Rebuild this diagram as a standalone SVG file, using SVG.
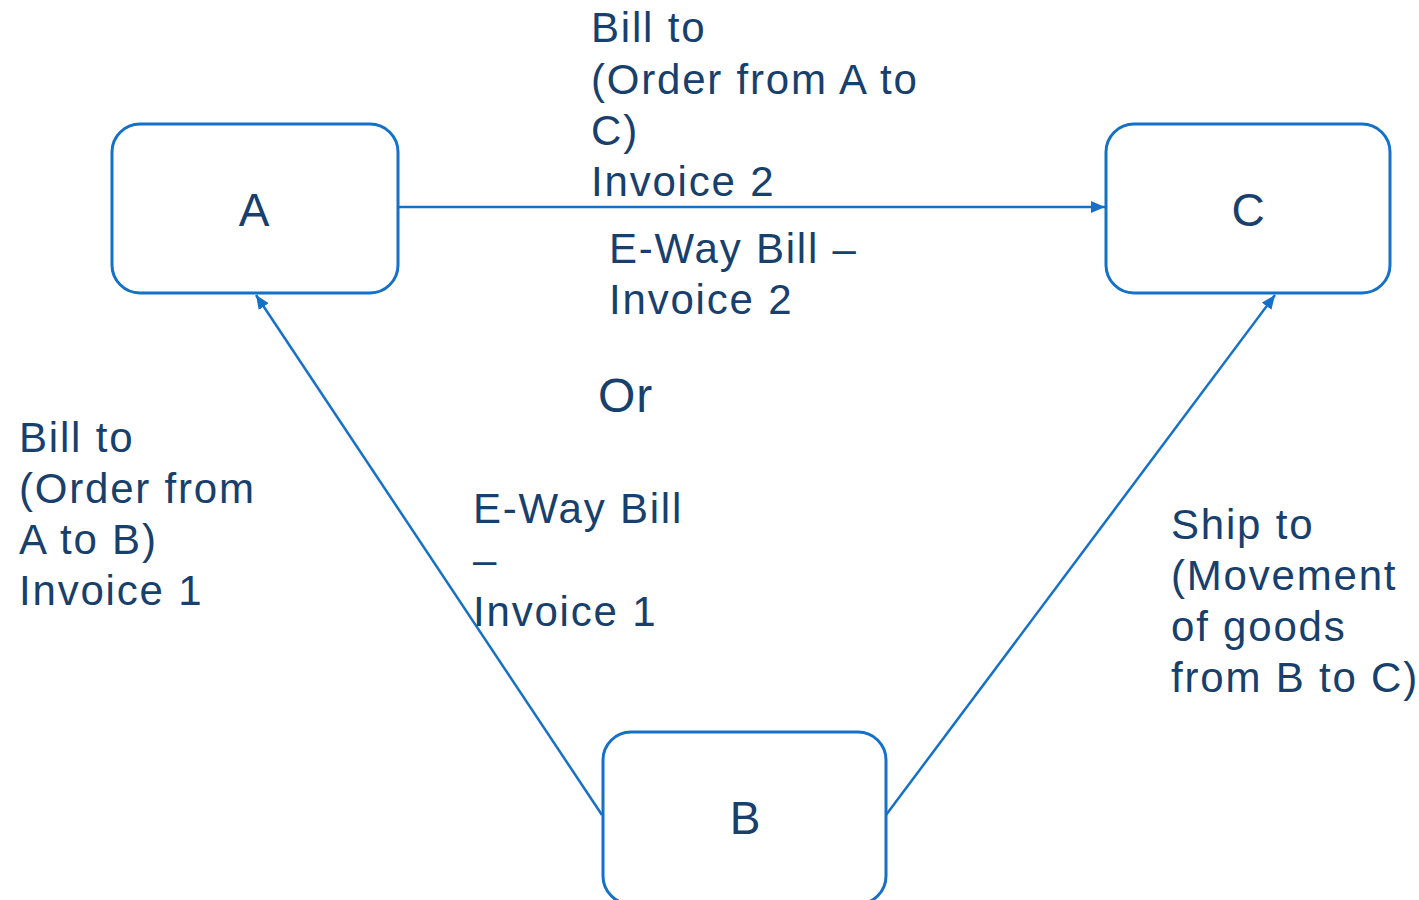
<svg xmlns="http://www.w3.org/2000/svg" width="1419" height="900" viewBox="0 0 1419 900">
  <style>
    .box { fill: #ffffff; stroke: #1570c8; stroke-width: 3; }
    .edge { fill: none; stroke: #1570c8; stroke-width: 2.5; }
    .lbl { font-family: "Liberation Sans", Arial, sans-serif; font-size: 42px; letter-spacing: 1.8px; fill: #17406d; }
    .big { font-size: 48px; letter-spacing: 1px; }
    .node-lbl { font-family: "Liberation Sans", Arial, sans-serif; font-size: 46px; fill: #17406d; text-anchor: middle; }
  </style>
  <defs>
    <marker id="arrow" viewBox="0 0 14 12" refX="14" refY="6" markerWidth="14" markerHeight="12" markerUnits="userSpaceOnUse" orient="auto">
      <path d="M0,0 L14,6 L0,12 z" fill="#1570c8"/>
    </marker>
  </defs>
  <rect width="1419" height="900" fill="#ffffff"/>

  <!-- connectors between the three parties -->
  <g id="connectors">
    <line class="edge" x1="399" y1="207" x2="1105" y2="207" marker-end="url(#arrow)"/>
    <line class="edge" x1="602" y1="815" x2="256" y2="295" marker-end="url(#arrow)"/>
    <line class="edge" x1="886" y1="815" x2="1275" y2="295" marker-end="url(#arrow)"/>
  </g>

  <g id="node-a">
    <rect class="box" x="112" y="124" width="286" height="169" rx="28"/>
    <text class="node-lbl" x="254" y="226">A</text>
  </g>
  <g id="node-c">
    <rect class="box" x="1106" y="124" width="284" height="169" rx="28"/>
    <text class="node-lbl" x="1248" y="226">C</text>
  </g>
  <g id="node-b">
    <rect class="box" x="603" y="732" width="283" height="172" rx="28"/>
    <text class="node-lbl" x="745" y="834">B</text>
  </g>

  <g id="labels">
    <text class="lbl" x="591" y="42">Bill to</text>
    <text class="lbl" x="591" y="94">(Order from A to</text>
    <text class="lbl" x="591" y="145">C)</text>
    <text class="lbl" x="591" y="196">Invoice 2</text>

    <text class="lbl" x="609" y="263">E-Way Bill –</text>
    <text class="lbl" x="609" y="314">Invoice 2</text>

    <text class="lbl big" x="598" y="412">Or</text>

    <text class="lbl" x="19" y="452">Bill to</text>
    <text class="lbl" x="19" y="503">(Order from</text>
    <text class="lbl" x="19" y="554">A to B)</text>
    <text class="lbl" x="19" y="605">Invoice 1</text>

    <text class="lbl" x="473" y="523">E-Way Bill</text>
    <text class="lbl" x="473" y="574">–</text>
    <text class="lbl" x="473" y="626">Invoice 1</text>

    <text class="lbl" x="1171" y="539">Ship to</text>
    <text class="lbl" x="1171" y="590">(Movement</text>
    <text class="lbl" x="1171" y="641">of goods</text>
    <text class="lbl" x="1171" y="692">from B to C)</text>
  </g>
</svg>
